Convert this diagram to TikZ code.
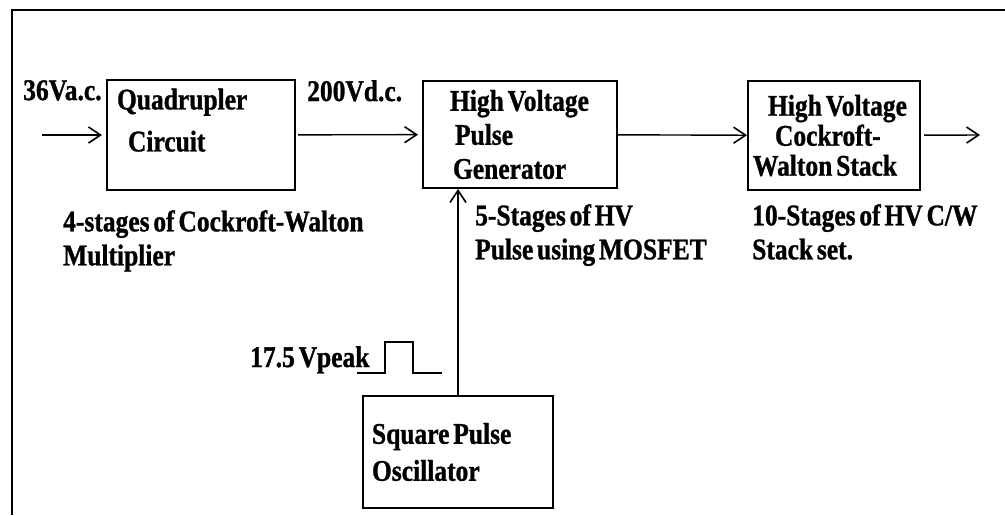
\documentclass[tikz,border=0pt]{standalone}
\usepackage{fontspec}
\setmainfont{Liberation Serif}[FakeStretch=0.85, WordSpace=0.6,
  BoldFeatures={FakeBold=1}]
\usetikzlibrary{arrows.meta,positioning}

\begin{document}
\begin{tikzpicture}[
  x=1pt, y=-1pt,
  font=\fontsize{30}{34}\selectfont\bfseries,
  block/.style={draw, line width=2pt, align=left, inner ysep=0pt,
                execute at begin node={\spaceskip=0pt\xspaceskip=0pt}},
  flow/.style={-{Straight Barb[length=12pt,width=16pt,line width=1.6pt]},
               line width=1.4pt},
  note/.style={align=left, inner sep=0pt, anchor=north west}
]
\useasboundingbox (0,0) rectangle (1005,515);
% frame (only top and left edges are seen)
\draw[line width=2.5pt] (1005,10) -- (12,10) -- (12,515);

% blocks
\node[block, minimum width=188pt, minimum height=110pt,
      text width=168pt, inner xsep=10pt] (quad) at (201,135)
      {Quadrupler\\[8pt]\hspace*{11pt}Circuit\\[-4pt]\mbox{}};
\node[block, minimum width=194pt, minimum height=107pt,
      text width=140pt, inner xsep=27pt] (pgen) at (520,134.5)
      {\mbox{High Voltage}\\\hspace*{5pt}Pulse\\\hspace*{3pt}Generator};
\node[block, minimum width=172pt, minimum height=109pt,
      text width=162pt, inner xsep=5pt] (cw) at (834,135.5)
      {\hspace*{15pt}\mbox{High Voltage}\\[-4pt]\hspace*{22pt}Cockroft-\\[-4pt]\mbox{Walton Stack}};
\node[block, minimum width=190pt, minimum height=112pt,
      text width=172pt, inner xsep=9pt] (osc) at (458,452)
      {Square Pulse\\[3pt]Oscillator};

% labels
\node[note] (vac) at (23,80) {36Va.c.};
\node[note] (vdc) at (307,80) {200Vd.c.};
\node[note] (quadnote) at (63,210) {4-stages of Cockroft-Walton\\Multiplier};
\node[note] (pgennote) at (475,204) {5-Stages of HV\\Pulse using MOSFET};
\node[note] (cwnote) at (752,204) {10-Stages of HV C/W\\Stack set.};
\node[note] (vpeak) at (250,346) {17.5 Vpeak};

% square pulse sketch
\draw[line width=1.4pt] (357,373) -- (385,373) -- (385,342)
  -- (413,342) -- (413,373) -- (442,373);

% connectors
\coordinate (in) at (42,135);
\coordinate (out) at (980,135);
\draw[flow, shorten >=4pt] (in) -- (quad);
\draw[flow, shorten <=2pt, shorten >=4pt] (quad) -- (pgen);
\draw[flow] (pgen) -- (cw);
\draw[flow, shorten <=3pt] (cw) -- (out);
\draw[flow] (osc.north) -- (osc.north |- pgen.south);
\end{tikzpicture}
\end{document}
